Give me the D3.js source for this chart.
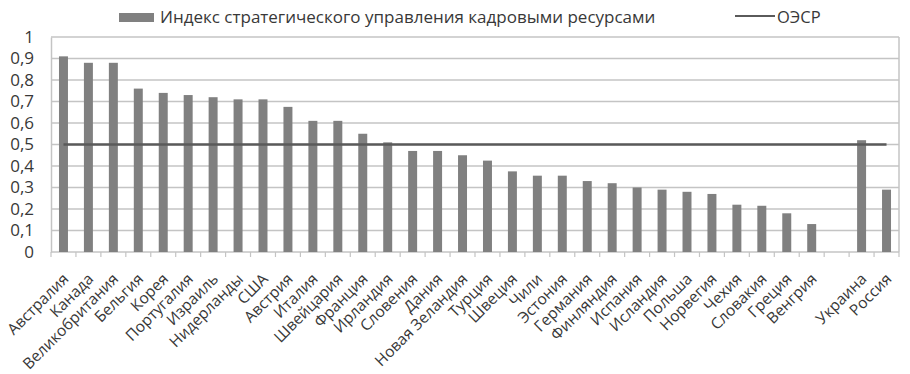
<!DOCTYPE html>
<html>
<head>
<meta charset="utf-8">
<script src="https://d3js.org/d3.v7.min.js"></script>
<style>
  body { margin: 0; background: #fff; }
  text { font-family: "Open Sans", sans-serif; fill: #383838; }
</style>
</head>
<body>
<div id="chart"></div>
<script>
    // Countries (the blank slot is a gap before Ukraine and Russia)
    const countries = ["Австралия", "Канада", "Великобритания", "Бельгия", "Корея", "Португалия",
        "Израиль", "Нидерланды", "США", "Австрия", "Италия", "Швейцария", "Франция", "Ирландия",
        "Словения", "Дания", "Новая Зеландия", "Турция", "Швеция", "Чили", "Эстония", "Германия",
        "Финляндия", "Испания", "Исландия", "Польша", "Норвегия", "Чехия", "Словакия", "Греция",
        "Венгрия", " ", "Украина", "Россия"]
    const indexValues = [0.91, 0.88, 0.88, 0.76, 0.74, 0.73, 0.72, 0.71, 0.71, 0.675, 0.61, 0.61,
        0.55, 0.51, 0.47, 0.47, 0.45, 0.425, 0.375, 0.355, 0.355, 0.33, 0.32, 0.30, 0.29, 0.28,
        0.27, 0.22, 0.215, 0.18, 0.13, null, 0.52, 0.29]
    const oecdValue = 0.5
    const yTicks = [0, 0.1, 0.2, 0.3, 0.4, 0.5, 0.6, 0.7, 0.8, 0.9, 1]
    const seriesNames = ["Индекс стратегического управления кадровыми ресурсами", "ОЭСР"]

    var width = 910, height = 374
    var margin = { left: 51, right: 11, top: 37, bottom: 122 }

    var svg = d3.select("#chart").append("svg")
        .attr("width", width)
        .attr("height", height)

    var x = d3.scaleBand()
        .domain(d3.range(countries.length))
        .range([margin.left, width - margin.right])
        .paddingInner(0.64)
        .paddingOuter(0.32)

    var xSlot = d3.scaleBand()
        .domain(d3.range(countries.length))
        .range([margin.left, width - margin.right])

    var y = d3.scaleLinear()
        .domain([0, 1])
        .range([height - margin.bottom, margin.top])

    // grid lines
    svg.append("g").selectAll("line")
        .data(yTicks.slice(1))
        .enter().append("line")
        .attr("x1", margin.left)
        .attr("x2", width - margin.right)
        .attr("y1", d => y(d))
        .attr("y2", d => y(d))
        .attr("stroke", "#c4c4c4")
        .attr("stroke-width", 1.5)

    // right border of plot area
    svg.append("line")
        .attr("x1", width - margin.right).attr("x2", width - margin.right)
        .attr("y1", y(1)).attr("y2", y(0))
        .attr("stroke", "#c4c4c4").attr("stroke-width", 1.5)

    // y axis
    var yAxis = svg.append("g")
        .attr("transform", "translate(" + margin.left + ",0)")
        .call(d3.axisLeft(y).tickValues(yTicks).tickSize(0).tickPadding(17)
            .tickFormat(d => String(d).replace(".", ",")))
    yAxis.select(".domain").attr("stroke", "#c4c4c4").attr("stroke-width", 1.5)
    yAxis.selectAll("text").style("font-size", "17px").attr("fill", "#383838")

    // x axis ticks at slot boundaries
    svg.append("line")
        .attr("x1", margin.left).attr("x2", width - margin.right)
        .attr("y1", y(0)).attr("y2", y(0))
        .attr("stroke", "#c4c4c4").attr("stroke-width", 1.5)
    svg.append("g").selectAll("line")
        .data(d3.range(countries.length + 1))
        .enter().append("line")
        .attr("x1", d => margin.left + d * xSlot.step())
        .attr("x2", d => margin.left + d * xSlot.step())
        .attr("y1", y(0))
        .attr("y2", y(0) + 5)
        .attr("stroke", "#c4c4c4")
        .attr("stroke-width", 1.2)

    // bars (keep the slot index, skip the empty slot)
    var barData = indexValues.map((v, i) => ({ i: i, v: v })).filter(d => d.v != null)
    svg.append("g").selectAll("rect")
        .data(barData)
        .enter().append("rect")
        .attr("x", d => x(d.i))
        .attr("width", x.bandwidth())
        .attr("y", d => y(d.v))
        .attr("height", d => y(0) - y(d.v))
        .attr("fill", "#808080")

    // OECD line
    var line = d3.line()
        .x(d => xSlot(d) + xSlot.bandwidth() / 2)
        .y(() => y(oecdValue))
    svg.append("path")
        .datum([0, countries.length - 1])
        .attr("d", line)
        .attr("fill", "none")
        .attr("stroke", "#5a5a5a")
        .attr("stroke-width", 2.5)

    // category labels
    svg.append("g").selectAll("text")
        .data(countries)
        .enter().append("text")
        .attr("transform", (d, i) => "translate(" + (xSlot(i) + xSlot.bandwidth() / 2 + 6) + "," + (y(0) + 28) + ")rotate(-45)")
        .attr("text-anchor", "end")
        .style("font-size", "15.5px")
        .text(d => d)

    // legend
    var legend = svg.append("g")
    legend.append("rect")
        .attr("x", 119).attr("y", 13)
        .attr("width", 35).attr("height", 9)
        .attr("fill", "#808080")
    legend.append("text")
        .attr("x", 160).attr("y", 23)
        .style("font-size", "17px")
        .text(seriesNames[0])
    legend.append("line")
        .attr("x1", 735).attr("x2", 775)
        .attr("y1", 16).attr("y2", 16)
        .attr("stroke", "#5a5a5a").attr("stroke-width", 2)
    legend.append("text")
        .attr("x", 777).attr("y", 23)
        .style("font-size", "16.5px")
        .text(seriesNames[1])
</script>
</body>
</html>
